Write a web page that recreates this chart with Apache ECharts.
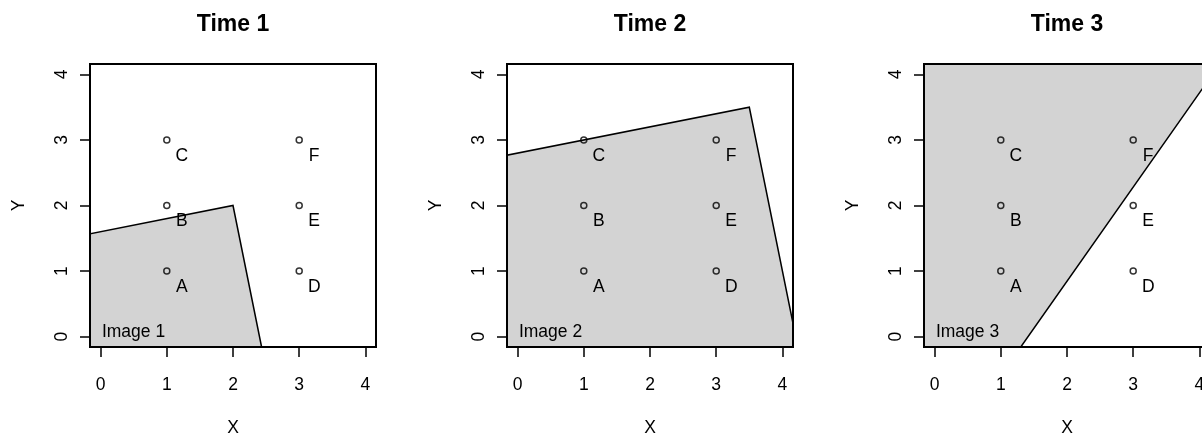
<!DOCTYPE html>
<html>
<head>
<meta charset="utf-8">
<script src="https://cdn.jsdelivr.net/npm/echarts@6/dist/echarts.min.js"></script>
<style>
  html, body { margin: 0; background: #fff; }
  #chart { width: 1202px; height: 435px; }
</style>
</head>
<body>
<div id="chart"></div>
<script>
  // panel data
  const titles = ['Time 1', 'Time 2', 'Time 3'];
  const imageNames = ['Image 1', 'Image 2', 'Image 3'];
  const pointNames = ['A', 'B', 'C', 'D', 'E', 'F'];
  const pointX = [1, 1, 1, 3, 3, 3];
  const pointY = [1, 2, 3, 1, 2, 3];
  // image footprints (extend past the plot, clipped to it)
  const image1 = [[2, 2], [-3, 1], [-2.4, -2], [2.6, -1]];
  const image2 = [[3.5, 3.5], [-2.5, 2.3], [-1.7, -1.7], [4.3, -0.5]];
  const image3 = [[1.1, -0.45], [4.6, 4.58], [4.6, 6], [-1, 6], [-1, -0.45]];
  const images = [image1, image2, image3];
  const ticks = [0, 1, 2, 3, 4];
  const axisMin = -0.16, axisMax = 4.16;

  const FONT = '"Liberation Sans", Arial, Helvetica, sans-serif';
  const gridLeft = [90, 507, 924];
  const gridTop = 64, gridW = 286, gridH = 283;

  // Sutherland-Hodgman clip of polygon to the axis window
  function clipPoly(poly) {
    function lerpX(a, b, x) { const t = (x - a[0]) / (b[0] - a[0]); return [x, a[1] + t * (b[1] - a[1])]; }
    function lerpY(a, b, y) { const t = (y - a[1]) / (b[1] - a[1]); return [a[0] + t * (b[0] - a[0]), y]; }
    const edges = [
      [p => p[0] >= axisMin, (a, b) => lerpX(a, b, axisMin)],
      [p => p[0] <= axisMax, (a, b) => lerpX(a, b, axisMax)],
      [p => p[1] >= axisMin, (a, b) => lerpY(a, b, axisMin)],
      [p => p[1] <= axisMax, (a, b) => lerpY(a, b, axisMax)]
    ];
    let out = poly;
    edges.forEach(([inside, cut]) => {
      const inp = out; out = [];
      for (let i = 0; i < inp.length; i++) {
        const cur = inp[i], prev = inp[(i + inp.length - 1) % inp.length];
        if (inside(cur)) {
          if (!inside(prev)) out.push(cut(prev, cur));
          out.push(cur);
        } else if (inside(prev)) {
          out.push(cut(prev, cur));
        }
      }
    });
    return out;
  }

  const grid = [], xAxis = [], yAxis = [], series = [], graphic = [];
  const labelStyle = { color: '#000', fontFamily: FONT, fontSize: 17.5 };
  const tickStyle = { show: true, inside: false, customValues: ticks, length: 10,
                      lineStyle: { color: '#000', width: 1.5 } };
  const lineStyle = { show: true, onZero: false, lineStyle: { color: '#000', width: 1.5 } };

  for (let k = 0; k < 3; k++) {
    grid.push({
      left: gridLeft[k], top: gridTop, width: gridW, height: gridH,
      outerBoundsMode: 'none', containLabel: false,
      show: true, borderColor: '#000', borderWidth: 2,
      backgroundColor: 'transparent', z: 10
    });
    xAxis.push({
      type: 'value', gridIndex: k, min: axisMin, max: axisMax,
      name: 'X', nameLocation: 'middle', nameGap: 72,
      nameTextStyle: labelStyle,
      axisLine: lineStyle,
      splitLine: { show: false },
      axisTick: tickStyle,
      axisLabel: Object.assign({ customValues: ticks, margin: 29 }, labelStyle)
    });
    yAxis.push({
      type: 'value', gridIndex: k, min: axisMin, max: axisMax,
      name: 'Y', nameLocation: 'middle', nameGap: 62, nameRotate: 90,
      nameTextStyle: labelStyle,
      axisLine: lineStyle,
      splitLine: { show: false },
      axisTick: tickStyle,
      axisLabel: Object.assign({ customValues: ticks, margin: 19, rotate: 90 }, labelStyle)
    });

    const clipped = clipPoly(images[k]);
    series.push({
      type: 'custom', xAxisIndex: k, yAxisIndex: k,
      data: [[0, 0]], silent: true, z: 1,
      renderItem: (params, api) => {
        const pts = clipped.map(p => api.coord(p));
        const tp = api.coord([0.02, 0.07]);
        const letters = pointNames.map((name, i) => {
          const c = api.coord([pointX[i], pointY[i]]);
          return { type: 'text', x: c[0] + 15, y: c[1] + 16, z2: 5,
                   style: { text: name, fill: '#000', font: '17.5px ' + FONT,
                            align: 'center', verticalAlign: 'middle' } };
        });
        return {
          type: 'group',
          children: [
            { type: 'polygon', shape: { points: pts },
              style: { fill: '#d3d3d3', stroke: '#000', lineWidth: 1.5 } },
            { type: 'text', x: tp[0], y: tp[1],
              style: { text: imageNames[k], fill: '#000', font: '17.5px ' + FONT,
                       align: 'left', verticalAlign: 'middle' } }
          ].concat(letters)
        };
      }
    });
    series.push({
      type: 'scatter', xAxisIndex: k, yAxisIndex: k, z: 3,
      data: pointX.map((x, i) => [x, pointY[i]]),
      symbol: 'circle', symbolSize: 6,
      itemStyle: { color: 'transparent', borderColor: '#000', borderWidth: 1.5 }
    });
    graphic.push({
      type: 'text', x: gridLeft[k] + gridW / 2, y: 25,
      style: { text: titles[k], fill: '#000', font: 'bold 23px ' + FONT,
               align: 'center', verticalAlign: 'middle' }
    });
  }

  const chart = echarts.init(document.getElementById('chart'), null, { renderer: 'canvas' });
  chart.setOption({
    animation: false,
    grid, xAxis, yAxis, series, graphic
  });
</script>
</body>
</html>
